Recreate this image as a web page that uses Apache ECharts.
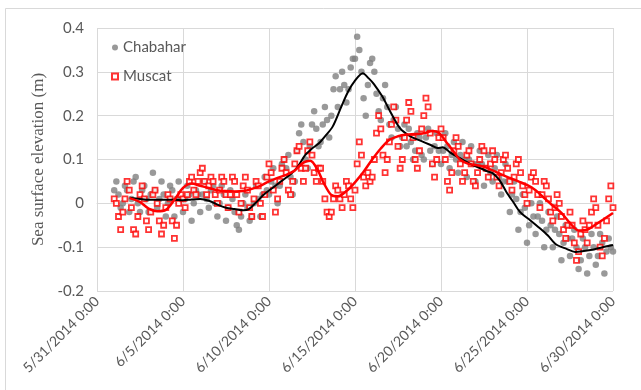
<!DOCTYPE html>
<html><head><meta charset="utf-8">
<script src="https://cdn.jsdelivr.net/npm/echarts@6/dist/echarts.min.js"></script>
<style>html,body{margin:0;padding:0;background:#fff}#c{width:641px;height:390px}</style>
</head><body><div id="c"></div>
<script>
// x axis tick labels (days since 5/31/2014)
const tickDays = [0, 5, 10, 15, 20, 25, 30];
const tickLabels = ["5/31/2014 0:00","6/5/2014 0:00","6/10/2014 0:00","6/15/2014 0:00","6/20/2014 0:00","6/25/2014 0:00","6/30/2014 0:00"];
// 3-hourly samples starting 6/1/2014 0:00 (day 1)
const sampleStart = 1;
const samplesPerDay = 8;
const chabahar = [
 0.03,0.05,0.02,-0.01,0.00,0.04,0.03,-0.02,
 0.01,0.05,0.06,0.00,-0.02,0.03,0.04,0.01,
 -0.02,0.02,0.07,0.03,-0.01,0.01,0.05,0.02,
 -0.03,0.00,0.04,0.03,-0.03,0.01,0.05,0.01,
 -0.02,0.01,0.04,0.02,-0.04,0.00,0.03,0.02,
 -0.02,0.02,0.05,0.01,-0.01,0.03,0.04,0.00,
 -0.03,0.00,0.04,0.02,-0.04,-0.01,0.03,0.01,
 -0.02,-0.05,-0.06,-0.03,0.00,0.02,-0.01,-0.04,
 -0.03,0.00,0.04,0.01,-0.03,0.02,0.06,0.03,
 0.02,0.05,0.08,0.04,0.00,0.04,0.09,0.10,
 0.08,0.11,0.06,0.02,0.05,0.12,0.16,0.18,
 0.14,0.10,0.08,0.13,0.18,0.21,0.17,0.13,
 0.14,0.18,0.22,0.19,0.15,0.20,0.26,0.29,
 0.22,0.26,0.30,0.27,0.23,0.26,0.31,0.33,
 0.33,0.38,0.35,0.30,0.24,0.20,0.27,0.32,
 0.33,0.30,0.25,0.21,0.19,0.24,0.27,0.22,
 0.18,0.15,0.19,0.22,0.17,0.13,0.15,0.18,
 0.13,0.17,0.14,0.10,0.12,0.16,0.15,0.11,
 0.10,0.15,0.17,0.12,0.09,0.13,0.16,0.12,
 0.09,0.12,0.16,0.13,0.08,0.11,0.14,0.10,
 0.07,0.11,0.14,0.10,0.06,0.10,0.13,0.09,
 0.05,0.09,0.12,0.09,0.04,0.08,0.11,0.07,
 0.05,0.08,0.11,0.06,0.02,0.05,0.09,0.05,
 -0.02,0.02,0.05,0.01,-0.06,-0.02,0.02,-0.01,
 -0.09,-0.05,0.00,-0.03,-0.07,-0.03,0.00,-0.04,
 -0.10,-0.06,-0.02,-0.05,-0.10,-0.06,-0.03,-0.07,
 -0.13,-0.09,-0.05,-0.08,-0.12,-0.08,-0.06,-0.10,
 -0.15,-0.13,-0.08,-0.10,-0.16,-0.12,-0.07,-0.10,
 -0.14,-0.12,-0.07,-0.09,-0.16,-0.11,-0.08,-0.10,
 -0.11
];
const muscat = [
 0.01,0.00,-0.03,-0.06,-0.02,0.01,0.05,0.03,
 -0.01,-0.06,-0.07,-0.03,0.02,0.04,0.01,-0.04,
 -0.06,-0.02,0.02,0.03,0.00,-0.04,-0.07,-0.05,
 -0.01,0.02,0.01,-0.04,-0.08,-0.05,0.00,0.02,
 0.01,-0.01,0.02,0.05,0.06,0.03,0.02,0.05,
 0.07,0.08,0.05,0.02,0.04,0.06,0.05,0.02,
 0.00,0.03,0.06,0.05,0.02,-0.01,0.02,0.06,
 0.05,0.02,-0.02,0.00,0.04,0.06,0.03,-0.01,
 -0.03,0.01,0.05,0.04,0.00,-0.03,0.02,0.06,
 0.09,0.07,0.03,-0.02,0.01,0.05,0.08,0.10,
 0.07,0.03,0.02,0.05,0.09,0.12,0.13,0.08,
 0.05,0.08,0.12,0.14,0.11,0.07,0.05,0.08,
 0.08,0.05,0.01,-0.02,-0.03,-0.02,0.01,0.04,
 0.03,0.01,-0.01,0.02,0.05,0.04,0.01,-0.01,
 0.03,0.09,0.14,0.11,0.06,0.04,0.07,0.05,
 0.06,0.10,0.16,0.20,0.17,0.11,0.07,0.10,
 0.14,0.18,0.22,0.19,0.13,0.08,0.10,0.15,
 0.19,0.23,0.21,0.15,0.10,0.08,0.12,0.17,
 0.20,0.24,0.22,0.16,0.09,0.06,0.10,0.15,
 0.17,0.15,0.10,0.05,0.03,0.07,0.12,0.15,
 0.13,0.09,0.05,0.07,0.11,0.12,0.09,0.05,
 0.04,0.07,0.10,0.13,0.12,0.08,0.06,0.09,
 0.12,0.10,0.06,0.04,0.07,0.10,0.11,0.08,
 0.05,0.03,0.06,0.09,0.10,0.07,0.04,0.02,
 0.00,0.03,0.06,0.07,0.05,0.02,-0.01,0.02,
 0.05,0.04,0.01,-0.02,-0.04,-0.01,0.02,0.00,
 -0.03,-0.06,-0.08,-0.05,-0.02,-0.05,-0.09,-0.13,
 -0.11,-0.07,-0.04,-0.06,-0.09,-0.05,-0.02,0.01,
 -0.01,-0.05,-0.10,-0.12,-0.08,-0.04,0.01,0.04,
 -0.01
];
// moving averages
const chabaharAvgDays = [1.9,2.5,3.0,3.5,4.0,4.5,5.0,5.5,6.0,6.5,7.0,7.5,8.0,8.5,8.8,9.2,9.7,10.2,10.7,11.3,11.7,12.1,12.5,12.9,13.3,13.7,14.2,14.6,15.0,15.45,15.8,16.1,16.6,17.0,17.6,18.2,18.8,19.4,19.8,20.1,20.5,21.1,21.7,22.3,22.7,23.0,23.4,23.8,24.2,24.6,25.2,25.75,26.2,26.7,27.3,27.8,28.3,28.8,29.4,30.0];
const chabaharAvg = [0.013,0.010,0.008,0.008,0.008,0.008,0.007,0.009,0.010,0.006,-0.003,-0.010,-0.013,-0.016,-0.014,0.000,0.020,0.035,0.050,0.068,0.085,0.110,0.125,0.137,0.155,0.175,0.220,0.255,0.280,0.297,0.285,0.272,0.243,0.213,0.172,0.153,0.143,0.133,0.126,0.128,0.117,0.103,0.090,0.080,0.073,0.069,0.053,0.026,0.003,-0.020,-0.039,-0.057,-0.073,-0.094,-0.104,-0.111,-0.109,-0.106,-0.100,-0.095];
const muscatAvgDays = [1.9,2.5,3.0,3.5,4.0,4.5,5.0,5.5,6.0,6.5,7.0,7.5,8.0,8.5,9.0,9.5,10.0,10.5,11.0,11.5,12.0,12.4,12.8,13.2,13.6,14.0,14.5,15.0,15.5,16.0,16.5,17.0,17.5,18.0,18.5,19.0,19.5,19.9,20.3,20.7,21.1,21.6,22.1,22.6,23.0,23.5,24.0,24.5,25.0,25.5,26.0,26.5,27.0,27.5,28.0,28.5,29.0,29.5,30.0];
const muscatAvg = [0.012,0.003,-0.012,-0.018,-0.015,0.008,0.035,0.045,0.040,0.035,0.030,0.028,0.027,0.028,0.033,0.040,0.050,0.058,0.065,0.075,0.093,0.097,0.078,0.045,0.020,0.016,0.028,0.048,0.072,0.100,0.125,0.145,0.153,0.157,0.158,0.160,0.165,0.160,0.140,0.120,0.100,0.090,0.087,0.082,0.075,0.066,0.058,0.050,0.042,0.030,0.012,-0.005,-0.022,-0.045,-0.062,-0.060,-0.048,-0.035,-0.022];

const toXY = (arr) => arr.map((v, i) => [sampleStart + i / samplesPerDay, v]);
const pair = (xs, ys) => xs.map((x, i) => [x, ys[i]]);

const chart = echarts.init(document.getElementById('c'), null, {renderer: 'canvas'});
const textColor = '#595959';
const font = 'Lato';
chart.setOption({
  animation: false,
  backgroundColor: '#fff',
  graphic: [{type: 'rect', shape: {x: 5.5, y: 8.5, width: 640, height: 390}, style: {fill: 'none', stroke: '#d9d9d9', lineWidth: 1}, silent: true}],
  grid: {left: 97, right: 28, top: 28, bottom: 99},
  legend: {
    orient: 'vertical', left: 106, top: 35, itemGap: 14, itemWidth: 6, itemHeight: 6,
    data: ['Chabahar', 'Muscat'],
    textStyle: {color: textColor, fontSize: 15, fontFamily: font, padding: [0, 0, 0, 0]}
  },
  xAxis: {
    type: 'value', min: 0, max: 30, interval: 5,
    axisLine: {show: true, lineStyle: {color: '#d9d9d9'}},
    axisTick: {show: false},
    splitLine: {show: true, lineStyle: {color: '#d9d9d9'}},
    axisLabel: {
      rotate: 45, margin: 8, color: textColor, fontSize: 14, fontFamily: font,
      formatter: (v) => { const k = tickDays.indexOf(Math.round(v)); return k >= 0 ? tickLabels[k] : ''; }
    }
  },
  yAxis: {
    type: 'value', min: -0.2, max: 0.4, interval: 0.1,
    name: 'Sea surface elevation (m)', nameLocation: 'middle', nameGap: 49,
    nameTextStyle: {color: textColor, fontSize: 17, fontFamily: 'Liberation Serif'},
    axisLine: {show: false}, axisTick: {show: false},
    splitLine: {show: true, lineStyle: {color: '#d9d9d9'}},
    axisLabel: {color: textColor, fontSize: 15, fontFamily: font, margin: 13,
      formatter: (v) => String(Math.round(v * 10) / 10)}
  },
  series: [
    {name: 'Chabahar', type: 'scatter', symbol: 'circle', symbolSize: 6.5,
     itemStyle: {color: '#7f7f7f'}, data: toXY(chabahar), z: 2},
    {name: 'Muscat', type: 'scatter', symbol: 'rect', symbolSize: 5,
     itemStyle: {color: '#ffffff', borderColor: '#ff0000', borderWidth: 1.8}, data: toXY(muscat), z: 3},
    {name: 'Chabahar avg', type: 'line', showSymbol: false, smooth: 0.3,
     lineStyle: {color: '#000000', width: 2}, data: pair(chabaharAvgDays, chabaharAvg), z: 4},
    {name: 'Muscat avg', type: 'line', showSymbol: false, smooth: 0.3,
     lineStyle: {color: '#ff0000', width: 2.5}, data: pair(muscatAvgDays, muscatAvg), z: 5}
  ]
});
</script></body></html>
